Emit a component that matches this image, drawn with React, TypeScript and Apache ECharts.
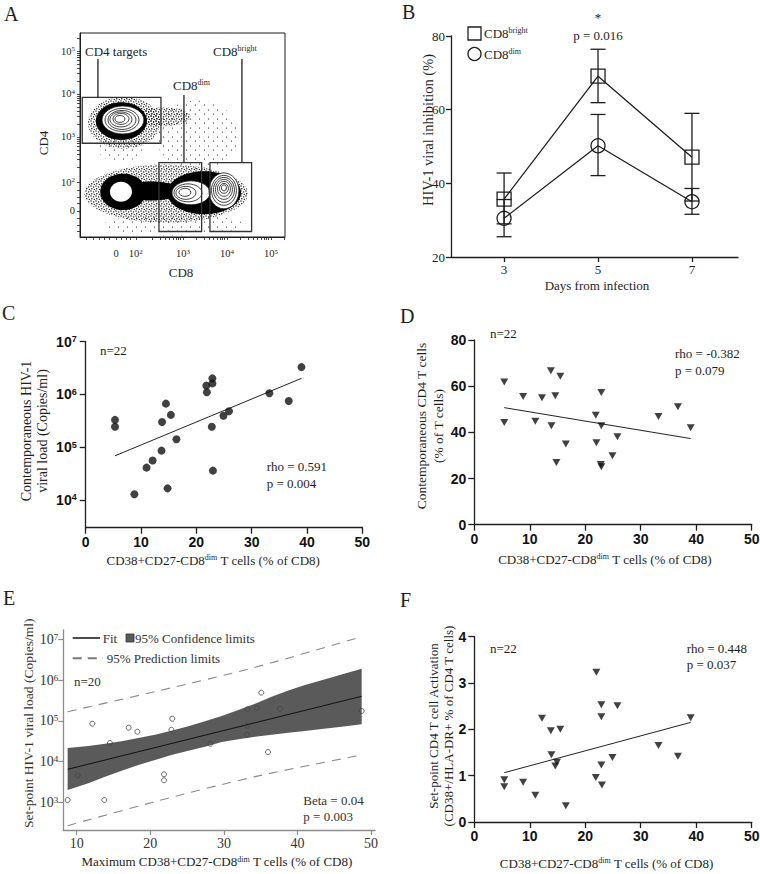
import React, { useEffect, useRef } from 'react';
import * as echarts from 'echarts';

const SERIF = '"Liberation Serif", "Times New Roman", Times, serif';
const SANS = '"Liberation Sans", Arial, Helvetica, sans-serif';
const INK = '#1e1e1e';

// ---------------- Panel A: flow cytometry (axis units = display decades) ----------------
const aXTickValues = [1.48, 1.93, 3, 4, 5];
const aXTickLabels = ['0', '10^2', '10^3', '10^4', '10^5'];
const aXMinor = [0.8, 0.95, 1.1, 1.22, 1.33, 1.6, 1.7, 1.8, 2.3, 2.48, 2.6, 2.7, 2.78, 2.85, 2.9, 2.95, 3.3, 3.48, 3.6, 3.7, 3.78, 3.85, 3.9, 3.95, 4.3, 4.48, 4.6, 4.7, 4.78, 4.85, 4.9, 4.95, 5.3];
const aYTickValues = [1.28, 1.95, 3, 4, 5];
const aYTickLabels = ['0', '10^2', '10^3', '10^4', '10^5'];
const aYMinor = [0.8, 0.95, 1.1, 1.45, 1.6, 1.75, 2.3, 2.48, 2.6, 2.7, 2.78, 2.85, 2.9, 2.95, 3.3, 3.48, 3.6, 3.7, 3.78, 3.85, 3.9, 3.95, 4.3, 4.48, 4.6, 4.7, 4.78, 4.85, 4.9, 4.95, 5.3];
// populations: [CD8 centre, CD4 centre, CD8 spread, CD4 spread]
const aSpeckleSparse = [[3.32, 3.05, 0.95, 0.8], [1.57, 2.72, 0.5, 0.3], [2.8, 0.95, 1.6, 0.25]];
const aSpeckleDense = [[1.66, 3.33, 0.82, 0.6], [2.55, 3.47, 0.62, 0.22], [2.62, 1.68, 1.86, 0.68]];
const aDense = [[1.6, 3.37, 0.58, 0.44], [1.64, 1.72, 0.52, 0.42], [2.27, 1.74, 0.72, 0.22], [3.48, 1.7, 0.84, 0.5]];
const aWhite = [[1.636, 3.395, 0.477, 0.326], [1.591, 1.721, 0.25, 0.233], [3.182, 1.698, 0.432, 0.279], [3.932, 1.744, 0.341, 0.419]];
const aRings = [
  [1.636, 3.395, 0.477, 0.326], [1.614, 3.395, 0.386, 0.267], [1.614, 3.395, 0.318, 0.221], [1.591, 3.407, 0.25, 0.174], [1.591, 3.419, 0.182, 0.128], [1.568, 3.419, 0.114, 0.081],
  [3.182, 1.698, 0.432, 0.279], [3.114, 1.698, 0.318, 0.209], [3.068, 1.698, 0.227, 0.151], [3.045, 1.709, 0.136, 0.093],
  [3.932, 1.744, 0.341, 0.419], [3.932, 1.756, 0.284, 0.349], [3.932, 1.767, 0.239, 0.291], [3.932, 1.779, 0.193, 0.233], [3.932, 1.791, 0.148, 0.174], [3.932, 1.802, 0.102, 0.116], [3.932, 1.814, 0.057, 0.07],
];
// gates [x1, y1, x2, y2] and leader lines [x, y1, y2]
const aGates = [[0.711, 2.853, 2.5, 3.923], [2.455, 0.798, 3.425, 2.402], [3.614, 0.798, 4.561, 2.402]];
const aLeads = [[1.068, 3.923, 4.814], [3.023, 2.402, 3.977], [4.341, 2.402, 4.814]];

// ---------------- Panel B ----------------
const bDays = [3, 5, 7];
const bBright = [35.7, 69.1, 47.1];
const bBrightErr = [[29.0, 42.8], [61.9, 76.4], [35.2, 59.0]];
const bDim = [30.5, 50.2, 35.0];
const bDimErr = [[25.5, 35.6], [42.1, 58.7], [31.6, 38.6]];

// ---------------- Panel C ----------------
const cX = [5.3, 5.3, 8.8, 11.0, 12.1, 13.7, 13.8, 14.5, 14.8, 15.4, 16.4, 21.8, 21.9, 22.9, 22.9, 22.8, 23.0, 24.9, 25.9, 33.2, 36.7, 39.0];
const cLoad = [330000, 245000, 12800, 41000, 56000, 86000, 300000, 670000, 16600, 410000, 141000, 1470000, 1100000, 2020000, 1620000, 245000, 36000, 396000, 480000, 1050000, 750000, 3300000];
const cFitX = [5.3, 39.0];
const cFitLoad = [68700, 2020000];

// ---------------- Panel D ----------------
const dX = [5.4, 5.4, 8.8, 11.0, 12.2, 13.8, 13.9, 14.6, 14.8, 15.5, 16.5, 21.9, 22.0, 22.9, 22.9, 22.8, 22.9, 24.9, 25.8, 33.2, 36.7, 39.0];
const dCD4 = [61.8, 44.3, 55.5, 44.8, 55.0, 66.7, 42.9, 55.9, 26.9, 64.3, 34.9, 47.4, 35.5, 57.3, 42.9, 26.1, 25.1, 29.9, 38.1, 46.9, 51.1, 42.0];
const dFitX = [5.4, 39.0];
const dFitY = [50.7, 37.3];

// ---------------- Panel E ----------------
const eX = [8.78, 10.14, 12.12, 13.75, 14.52, 17.06, 18.24, 21.86, 21.86, 22.99, 22.86, 28.16, 33.18, 33.18, 33.14, 34.5, 35.08, 35.99, 37.62, 48.72];
const eLoad = [1150, 4650, 85900, 1150, 28800, 68500, 54600, 4920, 3510, 114000, 61100, 27700, 194000, 76700, 46100, 208000, 495000, 17300, 200000, 176000];
const eFitX = [8.78, 48.72];
const eFitLoad = [6530, 404000];
const eBandX = [8.77, 11.58, 13.85, 16.11, 18.37, 20.64, 22.86, 25.17, 27.43, 29.7, 31.96, 34.23, 36.49, 38.75, 41.02, 43.28, 46.0, 48.72];
const eBandUpper = [21700, 24400, 27500, 31900, 38200, 46200, 57900, 74600, 99100, 132000, 185000, 265000, 394000, 562000, 769000, 1005000, 1387000, 1905000];
const eBandLower = [2030, 2950, 4310, 6040, 8320, 11040, 14660, 18700, 23440, 30550, 35480, 41300, 46240, 51760, 56890, 63680, 72610, 82790];
const ePredX = [8.77, 20.64, 34.23, 48.72];
const ePredUpper = [169400, 525000, 2075000, 11720000];
const ePredLower = [270, 1047, 4305, 14660];

// ---------------- Panel F ----------------
const fX = [5.4, 5.4, 8.8, 11.0, 12.2, 13.8, 13.9, 14.6, 14.9, 15.5, 16.5, 21.9, 22.0, 22.9, 22.9, 22.9, 23.0, 24.9, 25.8, 33.2, 36.7, 39.0];
const fAct = [0.91, 0.76, 0.86, 0.58, 2.24, 1.97, 1.45, 1.21, 1.29, 2.0, 0.35, 0.96, 3.23, 2.53, 2.27, 1.23, 0.8, 1.39, 2.51, 1.65, 1.42, 2.25];
const fFitX = [5.4, 39.0];
const fFitY = [1.065, 2.15];

const logTicksC = [4, 5, 6, 7];
const logTicksE = [3, 4, 5, 6, 7];
const eXTicks = [10, 20, 30, 40, 50];

const lg = (v: number) => Math.log10(v);
const zip = (xs: number[], ys: number[], f: (v: number) => number = (v) => v) => xs.map((x, i) => [x, f(ys[i])]);

// speckle textures for the flow-cytometry event clouds
const svgTile = (w: number, dots: string) =>
  'data:image/svg+xml;charset=utf-8,' +
  encodeURIComponent(`<svg xmlns="http://www.w3.org/2000/svg" width="${w}" height="${w}">${dots}</svg>`);
const DENSE_TILE = svgTile(5, '<circle cx="1" cy="1" r="0.7" fill="#000"/><circle cx="3.6" cy="1.9" r="0.7" fill="#000"/><circle cx="1.8" cy="3.8" r="0.7" fill="#000"/><circle cx="4.3" cy="4.4" r="0.6" fill="#000"/>');
const SPARSE_TILE = svgTile(9, '<circle cx="1.5" cy="2" r="0.6" fill="#000"/><circle cx="6.5" cy="6" r="0.6" fill="#000"/>');

const supLabel = (vals: number[], labels: string[]) => (v: number) => {
  const i = vals.findIndex((t) => Math.abs(t - v) < 1e-6);
  if (i < 0) return '';
  const [b, e] = labels[i].split('^');
  return e ? `{b|${b}}{s|${e}}` : `{b|${b}}`;
};
const powLabel = (v: number) => `{b|10}{s|${Math.round(v)}}`;

const aRich = {
  b: { fontFamily: SERIF, fontSize: 10.5, color: INK },
  s: { fontFamily: SERIF, fontSize: 7, color: INK, verticalAlign: 'top', padding: [0, 0, 3, 0] },
};
const boldRich = {
  b: { fontFamily: SANS, fontWeight: 'bold', fontSize: 14, color: '#111' },
  s: { fontFamily: SANS, fontWeight: 'bold', fontSize: 9, color: '#111', verticalAlign: 'top', padding: [0, 0, 5, 0] },
};
const serifRich = {
  b: { fontFamily: SERIF, fontSize: 14, color: '#333' },
  s: { fontFamily: SERIF, fontSize: 9, color: '#333', verticalAlign: 'top', padding: [0, 0, 5, 0] },
};
const txtRich = {
  n: { fontFamily: SERIF, fontSize: 13, fill: INK, color: INK },
  s: { fontFamily: SERIF, fontSize: 8, fill: INK, color: INK, verticalAlign: 'top', padding: [0, 0, 4, 0] },
};

const axLine = (color = INK, width = 1.3) => ({ show: true, onZero: false, lineStyle: { color, width } });
const noSplit = { show: false };
const boldLabel = { fontFamily: SANS, fontWeight: 'bold', fontSize: 14, color: '#111' };

const ellipseItem = (style: any) => (params: any, api: any) => {
  const c = api.coord([api.value(0), api.value(1)]);
  const s = api.size([api.value(2), api.value(3)]);
  return { type: 'ellipse', shape: { cx: c[0], cy: c[1], rx: s[0], ry: s[1] }, style };
};

const T = (x: number, y: number, text: string, o: any = {}) => ({
  type: 'text',
  x,
  y,
  rotation: o.rot || 0,
  silent: true,
  z: 100,
  style: {
    text,
    fontFamily: SERIF,
    fontSize: o.fs || 13,
    fontWeight: o.fw || 'normal',
    fill: o.fill || INK,
    textAlign: o.align || 'left',
    align: o.align || 'left',
    textVerticalAlign: 'middle',
    verticalAlign: 'middle',
    lineHeight: o.lh,
    rich: o.rich,
  },
});

function buildOption() {
  const grids = [
    { left: 80, top: 33, width: 205, height: 204, show: true, borderColor: INK, borderWidth: 1, outerBoundsMode: 'none' },
    { left: 451, top: 36, width: 287, height: 221, outerBoundsMode: 'none' },
    { left: 85.7, top: 341.7, width: 276.6, height: 186, outerBoundsMode: 'none' },
    { left: 474.3, top: 340, width: 277.4, height: 184.7, outerBoundsMode: 'none' },
    { left: 63.3, top: 630, width: 311.7, height: 200, outerBoundsMode: 'none' },
    { left: 474.3, top: 636.7, width: 277.4, height: 185.3, outerBoundsMode: 'none' },
  ];

  const xAxis = [
    {
      gridIndex: 0, type: 'value', min: 0.66, max: 5.32, axisLine: axLine(INK, 1), splitLine: noSplit,
      axisTick: { show: true, length: 3, customValues: [...aXTickValues, ...aXMinor], lineStyle: { color: INK, width: 0.8 } },
      axisLabel: { customValues: aXTickValues, formatter: supLabel(aXTickValues, aXTickLabels), rich: aRich, margin: 11 },
    },
    {
      gridIndex: 1, type: 'value', min: 1.87, max: 7.98, axisLine: axLine(), splitLine: noSplit,
      axisTick: { show: true, length: 5, customValues: bDays, lineStyle: { color: INK, width: 1.3 } },
      axisLabel: { customValues: bDays, fontFamily: SERIF, fontSize: 13, color: INK, margin: 6 },
    },
    {
      gridIndex: 2, type: 'value', min: 0, max: 50, interval: 10, axisLine: axLine(), splitLine: noSplit,
      axisTick: { show: true, length: 6, lineStyle: { color: INK, width: 1.3 } },
      axisLabel: { ...boldLabel, margin: 7 },
    },
    {
      gridIndex: 3, type: 'value', min: 0, max: 50, interval: 10, axisLine: axLine(), splitLine: noSplit,
      axisTick: { show: true, length: 6, lineStyle: { color: INK, width: 1.3 } },
      axisLabel: { ...boldLabel, margin: 7 },
    },
    {
      gridIndex: 4, type: 'value', min: 8.18, max: 50.53, axisLine: axLine('#8c8c8c', 1.3), splitLine: noSplit,
      axisTick: { show: true, length: 5, customValues: eXTicks, lineStyle: { color: '#8c8c8c', width: 1.2 } },
      axisLabel: { customValues: eXTicks, fontFamily: SERIF, fontSize: 14, color: '#333', margin: 6 },
    },
    {
      gridIndex: 5, type: 'value', min: 0, max: 50, interval: 10, axisLine: axLine(), splitLine: noSplit,
      axisTick: { show: true, length: 6, lineStyle: { color: INK, width: 1.3 } },
      axisLabel: { ...boldLabel, margin: 7 },
    },
  ];

  const yAxis = [
    {
      gridIndex: 0, type: 'value', min: 0.67, max: 5.42, axisLine: axLine(INK, 1), splitLine: noSplit,
      axisTick: { show: true, length: 3, customValues: [...aYTickValues, ...aYMinor], lineStyle: { color: INK, width: 0.8 } },
      axisLabel: { customValues: aYTickValues, formatter: supLabel(aYTickValues, aYTickLabels), rich: aRich, margin: 5 },
    },
    {
      gridIndex: 1, type: 'value', min: 20, max: 80, interval: 20, axisLine: axLine(), splitLine: noSplit,
      axisTick: { show: true, length: 5, lineStyle: { color: INK, width: 1.3 } },
      axisLabel: { fontFamily: SERIF, fontSize: 13, color: INK, margin: 6 },
    },
    {
      gridIndex: 2, type: 'value', min: 3.474, max: 7, axisLine: axLine(), splitLine: noSplit,
      axisTick: { show: true, length: 6, customValues: logTicksC, lineStyle: { color: INK, width: 1.3 } },
      axisLabel: { customValues: logTicksC, formatter: powLabel, rich: boldRich, margin: 9 },
    },
    {
      gridIndex: 3, type: 'value', min: 0, max: 80, interval: 20, axisLine: axLine(), splitLine: noSplit,
      axisTick: { show: true, length: 6, lineStyle: { color: INK, width: 1.3 } },
      axisLabel: { ...boldLabel, margin: 8 },
    },
    {
      gridIndex: 4, type: 'value', min: 2.325, max: 7.233, axisLine: axLine('#8c8c8c', 1.3), splitLine: noSplit,
      axisTick: { show: true, length: 5, customValues: logTicksE, lineStyle: { color: '#8c8c8c', width: 1.2 } },
      axisLabel: { customValues: logTicksE, formatter: powLabel, rich: serifRich, margin: 5 },
    },
    {
      gridIndex: 5, type: 'value', min: 0, max: 4, interval: 1, axisLine: axLine(), splitLine: noSplit,
      axisTick: { show: true, length: 6, lineStyle: { color: INK, width: 1.3 } },
      axisLabel: { ...boldLabel, margin: 8 },
    },
  ];

  const ell = (data: number[][], style: any, z: number) => ({
    type: 'custom', xAxisIndex: 0, yAxisIndex: 0, z, silent: true, clip: true,
    data, encode: { x: 0, y: 1 }, renderItem: ellipseItem(style),
  });

  const errBars = {
    type: 'custom', xAxisIndex: 1, yAxisIndex: 1, z: 6, silent: true,
    data: [
      ...bDays.map((d, i) => [d, bBrightErr[i][0], bBrightErr[i][1]]),
      ...bDays.map((d, i) => [d, bDimErr[i][0], bDimErr[i][1]]),
    ],
    encode: { x: 0, y: [1, 2] },
    renderItem: (p: any, api: any) => {
      const lo = api.coord([api.value(0), api.value(1)]);
      const hi = api.coord([api.value(0), api.value(2)]);
      const w = 7.5;
      const st = { stroke: INK, lineWidth: 1.3 };
      return {
        type: 'group',
        children: [
          { type: 'line', shape: { x1: lo[0], y1: lo[1], x2: hi[0], y2: hi[1] }, style: st },
          { type: 'line', shape: { x1: lo[0] - w, y1: lo[1], x2: lo[0] + w, y2: lo[1] }, style: st },
          { type: 'line', shape: { x1: hi[0] - w, y1: hi[1], x2: hi[0] + w, y2: hi[1] }, style: st },
        ],
      };
    },
  };

  const scatterTri = (xi: number, xs: number[], ys: number[]) => ({
    type: 'scatter', xAxisIndex: xi, yAxisIndex: xi, symbol: 'triangle', symbolRotate: 180, symbolSize: [8, 7],
    itemStyle: { color: '#111' }, data: zip(xs, ys), z: 4,
  });
  const fitLine = (xi: number, xs: number[], ys: number[], f?: (v: number) => number, color = '#222', width = 1) => ({
    type: 'line', xAxisIndex: xi, yAxisIndex: xi, symbol: 'none', data: zip(xs, ys, f), z: 3,
    lineStyle: { color, width },
  });

  const series: any[] = [
    // A
    ell(aSpeckleSparse, { fill: { image: SPARSE_TILE, repeat: 'repeat', imageWidth: 9, imageHeight: 9 } }, 1),
    ell(aSpeckleDense, { fill: { image: DENSE_TILE, repeat: 'repeat', imageWidth: 5, imageHeight: 5 } }, 2),
    ell(aDense, { fill: '#000' }, 3),
    ell(aWhite, { fill: '#fff' }, 4),
    ell(aRings, { fill: 'none', stroke: '#111', lineWidth: 0.8 }, 5),
    {
      type: 'custom', xAxisIndex: 0, yAxisIndex: 0, z: 6, silent: true, data: aGates, encode: { x: [0, 2], y: [1, 3] },
      renderItem: (p: any, api: any) => {
        const a = api.coord([api.value(0), api.value(3)]);
        const b = api.coord([api.value(2), api.value(1)]);
        return { type: 'rect', shape: { x: a[0], y: a[1], width: b[0] - a[0], height: b[1] - a[1] }, style: { fill: 'none', stroke: '#333', lineWidth: 1.3 } };
      },
    },
    {
      type: 'custom', xAxisIndex: 0, yAxisIndex: 0, z: 6, silent: true, data: aLeads, encode: { x: 0, y: [1, 2] },
      renderItem: (p: any, api: any) => {
        const a = api.coord([api.value(0), api.value(1)]);
        const b = api.coord([api.value(0), api.value(2)]);
        return { type: 'line', shape: { x1: a[0], y1: a[1], x2: b[0], y2: b[1] }, style: { stroke: '#222', lineWidth: 1.3 } };
      },
    },
    // B
    {
      type: 'line', xAxisIndex: 1, yAxisIndex: 1, data: zip(bDays, bBright), symbol: 'rect', symbolSize: 14,
      lineStyle: { color: INK, width: 1.3 }, itemStyle: { color: 'rgba(255,255,255,0)', borderColor: INK, borderWidth: 1.3 }, z: 4,
    },
    {
      type: 'line', xAxisIndex: 1, yAxisIndex: 1, data: zip(bDays, bDim), symbol: 'circle', symbolSize: 14,
      lineStyle: { color: INK, width: 1.3 }, itemStyle: { color: 'rgba(255,255,255,0)', borderColor: INK, borderWidth: 1.3 }, z: 4,
    },
    errBars,
    // C
    {
      type: 'scatter', xAxisIndex: 2, yAxisIndex: 2, symbol: 'circle', symbolSize: 8, itemStyle: { color: '#111' },
      data: zip(cX, cLoad, lg), z: 4,
    },
    fitLine(2, cFitX, cFitLoad, lg),
    // D
    scatterTri(3, dX, dCD4),
    fitLine(3, dFitX, dFitY),
    // E
    {
      type: 'custom', xAxisIndex: 4, yAxisIndex: 4, z: 1, silent: true, clip: true,
      data: [[eBandX[0], lg(eBandUpper[0])]], encode: { x: 0, y: 1 },
      renderItem: (p: any, api: any) => {
        const pts: number[][] = [];
        eBandX.forEach((x, i) => pts.push(api.coord([x, lg(eBandUpper[i])])));
        for (let i = eBandX.length - 1; i >= 0; i--) pts.push(api.coord([eBandX[i], lg(eBandLower[i])]));
        return { type: 'polygon', shape: { points: pts }, style: { fill: '#5a5a5a' } };
      },
    },
    { ...fitLine(4, ePredX, ePredUpper, lg), smooth: 0.3, lineStyle: { color: '#8a8a8a', width: 1.1, type: [9, 7] } },
    { ...fitLine(4, ePredX, ePredLower, lg), smooth: 0.3, lineStyle: { color: '#8a8a8a', width: 1.1, type: [9, 7] } },
    fitLine(4, eFitX, eFitLoad, lg, '#111', 1),
    {
      type: 'scatter', xAxisIndex: 4, yAxisIndex: 4, symbol: 'circle', symbolSize: 5,
      itemStyle: { color: 'rgba(255,255,255,0)', borderColor: '#444', borderWidth: 1 }, data: zip(eX, eLoad, lg), z: 5,
    },
    // F
    scatterTri(5, fX, fAct),
    fitLine(5, fFitX, fFitY),
  ];

  const xTitle = (x: number, y: number, prefix = '') =>
    T(x, y, `{n|${prefix}CD38+CD27-CD8}{s|dim}{n| T cells (% of CD8)}`, { align: 'center', rich: txtRich });

  const graphicEls: any[] = [
    // panel letters
    T(4, 13.5, 'A', { fs: 20 }),
    T(402, 11.5, 'B', { fs: 20 }),
    T(2, 312.5, 'C', { fs: 20 }),
    T(400, 315.5, 'D', { fs: 20 }),
    T(3, 597.5, 'E', { fs: 20 }),
    T(400, 599.5, 'F', { fs: 20 }),
    // A
    T(43, 143, 'CD4', { rot: Math.PI / 2, align: 'center' }),
    T(181, 272, 'CD8', { align: 'center' }),
    T(85, 51, 'CD4 targets'),
    T(173, 85, '{n|CD8}{s|dim}', { rich: txtRich }),
    T(213, 51, '{n|CD8}{s|bright}', { rich: txtRich }),
    // B
    T(598, 17, '*', { align: 'center' }),
    T(598, 35, 'p = 0.016', { align: 'center' }),
    { type: 'rect', shape: { x: 468, y: 27, width: 13, height: 13 }, style: { fill: 'none', stroke: INK, lineWidth: 1.3 }, silent: true },
    { type: 'circle', shape: { cx: 474.5, cy: 54, r: 6.5 }, style: { fill: 'none', stroke: INK, lineWidth: 1.3 }, silent: true },
    T(484, 33, '{n|CD8}{s|bright}', { rich: txtRich }),
    T(484, 54, '{n|CD8}{s|dim}', { rich: txtRich }),
    T(428, 130, 'HIV-1 viral inhibition (%)', { rot: Math.PI / 2, align: 'center', fs: 14.5 }),
    T(597, 285, 'Days from infection', { align: 'center' }),
    // C
    T(100, 350, 'n=22'),
    T(266.7, 466, 'rho = 0.591'),
    T(266.7, 483, 'p = 0.004'),
    T(34, 431, 'Contemporaneous HIV-1\nviral load (Copies/ml)', { rot: Math.PI / 2, align: 'center', fs: 14, lh: 16 }),
    xTitle(213.3, 560),
    // D
    T(490, 333, 'n=22'),
    T(675, 353.3, 'rho = -0.382'),
    T(675, 370, 'p = 0.079'),
    T(430, 426, 'Contemporaneous CD4 T cells\n(% of T cells)', { rot: Math.PI / 2, align: 'center', fs: 13.5, lh: 16.6 }),
    xTitle(605, 559),
    // E
    { type: 'line', shape: { x1: 72.7, y1: 638, x2: 100, y2: 638 }, style: { stroke: '#111', lineWidth: 1.5 }, silent: true },
    { type: 'rect', shape: { x: 126, y: 634, width: 8, height: 8 }, style: { fill: '#5a5a5a', stroke: '#333', lineWidth: 0.8 }, silent: true },
    { type: 'line', shape: { x1: 72.7, y1: 658.3, x2: 103, y2: 658.3 }, style: { stroke: '#777', lineWidth: 2, lineDash: [9, 6] }, silent: true },
    T(102.7, 638, 'Fit', { fill: '#333' }),
    T(135, 638, '95% Confidence limits', { fill: '#333' }),
    T(106.7, 658.3, '95% Prediction limits', { fill: '#333' }),
    T(74, 681.7, 'n=20', { fill: '#333' }),
    T(303.3, 800, 'Beta = 0.04', { fill: '#333' }),
    T(303.3, 816, 'p = 0.003', { fill: '#333' }),
    T(28, 723.3, 'Set-point HIV-1 viral load (Copies/ml)', { rot: Math.PI / 2, align: 'center', fs: 13.5, fill: '#333' }),
    xTitle(217, 861.7, 'Maximum '),
    // F
    T(490, 648, 'n=22'),
    T(686.7, 648.3, 'rho = 0.448'),
    T(686.7, 664, 'p = 0.037'),
    T(441, 726, 'Set-point CD4 T cell Activation\n(CD38+/HLA-DR+ % of CD4 T cells)', { rot: Math.PI / 2, align: 'center', fs: 13, lh: 15 }),
    xTitle(606.7, 863.3),
  ];

  return {
    animation: false,
    backgroundColor: '#ffffff',
    textStyle: { fontFamily: SERIF },
    grid: grids,
    xAxis,
    yAxis,
    series,
    graphic: { elements: graphicEls },
  };
}

export default function App() {
  const ref = useRef<HTMLDivElement>(null);
  useEffect(() => {
    if (!ref.current) return;
    const chart = echarts.init(ref.current, null, { renderer: 'svg' });
    chart.setOption(buildOption() as any);
    return () => chart.dispose();
  }, []);
  return (
    <div
      ref={ref}
      style={{ position: 'absolute', left: 0, top: 0, width: 760, height: 874, background: '#fff' }}
    />
  );
}
